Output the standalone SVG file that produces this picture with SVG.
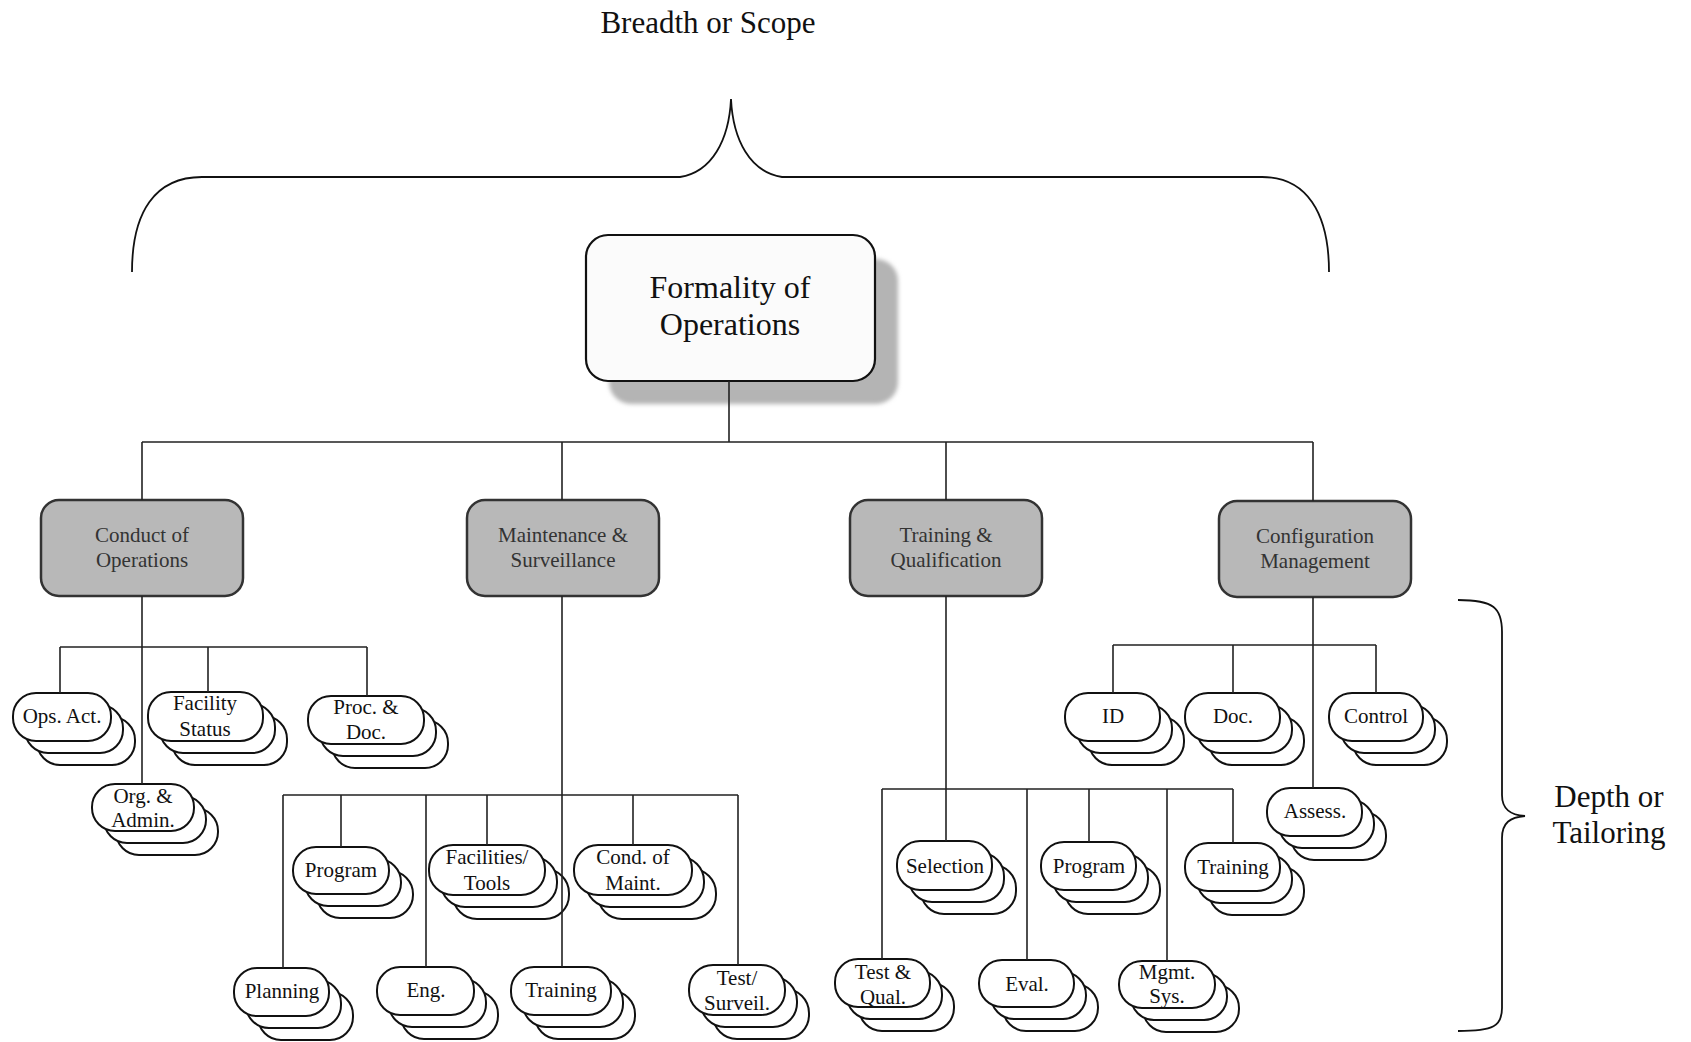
<svg xmlns="http://www.w3.org/2000/svg" width="1691" height="1042" viewBox="0 0 1691 1042">
<defs>
<style>
text{font-family:"Liberation Serif","Times New Roman",serif;text-anchor:middle;fill:#111}
.big{font-size:31px}
.top{font-size:32px}
.l2 rect{fill:#b8b8b8;stroke:#333;stroke-width:2.5}
.l2 text{font-size:21px;fill:#333}
.st rect{fill:#fff;stroke:#111;stroke-width:2}
.st text{font-size:21px}
.conn path{fill:none;stroke:#222;stroke-width:1.6}
.brace{fill:none;stroke:#111;stroke-width:1.8}
</style>
<filter id="blur" x="-10%" y="-10%" width="120%" height="120%"><feGaussianBlur stdDeviation="2"/></filter>
</defs>
<rect width="1691" height="1042" fill="#fff"/>

<text class="big" x="708" y="33">Breadth or Scope</text>
<path class="brace" d="M132,272 C132,212 155,177 202,177 L680,177 C712,172 729,140 731,99 C733,140 750,172 782,177 L1262,177 C1306,177 1329,212 1329,272"/>

<path class="brace" d="M1458,600 C1494,600 1502,608 1502,632 L1502,795 C1502,809 1510,815 1525,816 C1510,817 1502,823 1502,838 L1502,1008 C1502,1026 1494,1031 1458,1031"/>
<text class="big" x="1609" y="807">Depth or</text>
<text class="big" x="1609" y="843">Tailoring</text>

<g id="n_formality">
<rect x="609" y="259" width="289" height="145" rx="22" fill="#b4b4b4" filter="url(#blur)"/>
<rect x="586" y="235" width="289" height="146" rx="22" fill="#fbfbfb" stroke="#111" stroke-width="2.2"/>
<text class="top" x="730" y="298">Formality of</text>
<text class="top" x="730" y="335">Operations</text>
</g>

<g id="n_conduct" class="l2"><rect x="41" y="500" width="202" height="96" rx="18"/><text x="142" y="542">Conduct of</text><text x="142" y="567">Operations</text></g>
<g id="n_maint" class="l2"><rect x="467" y="500" width="192" height="96" rx="18"/><text x="563" y="542">Maintenance &amp;</text><text x="563" y="567">Surveillance</text></g>
<g id="n_trainq" class="l2"><rect x="850" y="500" width="192" height="96" rx="18"/><text x="946" y="542">Training &amp;</text><text x="946" y="567">Qualification</text></g>
<g id="n_config" class="l2"><rect x="1219" y="501" width="192" height="96" rx="18"/><text x="1315" y="543">Configuration</text><text x="1315" y="568">Management</text></g>

<g id="n_ops" class="st"><rect x="37" y="717" width="98" height="48" rx="23"/><rect x="25" y="705" width="98" height="48" rx="23"/><rect x="13" y="693" width="98" height="48" rx="23"/><text x="62" y="723">Ops. Act.</text></g>
<g id="n_facility" class="st"><rect x="172" y="716" width="115" height="49" rx="23"/><rect x="160" y="704" width="115" height="49" rx="23"/><rect x="148" y="692" width="115" height="49" rx="23"/><text x="205" y="710">Facility</text><text x="205" y="736">Status</text></g>
<g id="n_proc" class="st"><rect x="332" y="720" width="116" height="48" rx="23"/><rect x="320" y="708" width="116" height="48" rx="23"/><rect x="308" y="696" width="116" height="48" rx="23"/><text x="366" y="714">Proc. &amp;</text><text x="366" y="739">Doc.</text></g>
<g id="n_org" class="st"><rect x="116" y="808" width="102" height="47" rx="23"/><rect x="104" y="796" width="102" height="47" rx="23"/><rect x="92" y="784" width="102" height="47" rx="23"/><text x="143" y="803">Org. &amp;</text><text x="143" y="827">Admin.</text></g>

<g id="n_program1" class="st"><rect x="317" y="871" width="96" height="47" rx="23"/><rect x="305" y="859" width="96" height="47" rx="23"/><rect x="293" y="847" width="96" height="47" rx="23"/><text x="341" y="877">Program</text></g>
<g id="n_facilities" class="st"><rect x="453" y="869" width="116" height="50" rx="24"/><rect x="441" y="857" width="116" height="50" rx="24"/><rect x="429" y="845" width="116" height="50" rx="24"/><text x="487" y="864">Facilities/</text><text x="487" y="890">Tools</text></g>
<g id="n_condmaint" class="st"><rect x="598" y="869" width="118" height="50" rx="24"/><rect x="586" y="857" width="118" height="50" rx="24"/><rect x="574" y="845" width="118" height="50" rx="24"/><text x="633" y="864">Cond. of</text><text x="633" y="890">Maint.</text></g>
<g id="n_planning" class="st"><rect x="258" y="992" width="95" height="48" rx="23"/><rect x="246" y="980" width="95" height="48" rx="23"/><rect x="234" y="968" width="95" height="48" rx="23"/><text x="282" y="998">Planning</text></g>
<g id="n_eng" class="st"><rect x="401" y="991" width="97" height="48" rx="23"/><rect x="389" y="979" width="97" height="48" rx="23"/><rect x="377" y="967" width="97" height="48" rx="23"/><text x="426" y="997">Eng.</text></g>
<g id="n_training1" class="st"><rect x="535" y="991" width="100" height="48" rx="23"/><rect x="523" y="979" width="100" height="48" rx="23"/><rect x="511" y="967" width="100" height="48" rx="23"/><text x="561" y="997">Training</text></g>
<g id="n_test" class="st"><rect x="713" y="989" width="96" height="50" rx="24"/><rect x="701" y="977" width="96" height="50" rx="24"/><rect x="689" y="965" width="96" height="50" rx="24"/><text x="737" y="985">Test/</text><text x="737" y="1010">Surveil.</text></g>

<g id="n_selection" class="st"><rect x="921" y="865" width="95" height="49" rx="23"/><rect x="909" y="853" width="95" height="49" rx="23"/><rect x="897" y="841" width="95" height="49" rx="23"/><text x="945" y="873">Selection</text></g>
<g id="n_program2" class="st"><rect x="1065" y="866" width="95" height="48" rx="23"/><rect x="1053" y="854" width="95" height="48" rx="23"/><rect x="1041" y="842" width="95" height="48" rx="23"/><text x="1089" y="873">Program</text></g>
<g id="n_training2" class="st"><rect x="1209" y="867" width="95" height="48" rx="23"/><rect x="1197" y="855" width="95" height="48" rx="23"/><rect x="1185" y="843" width="95" height="48" rx="23"/><text x="1233" y="874">Training</text></g>
<g id="n_testqual" class="st"><rect x="859" y="983" width="95" height="48" rx="23"/><rect x="847" y="971" width="95" height="48" rx="23"/><rect x="835" y="959" width="95" height="48" rx="23"/><text x="883" y="979">Test &amp;</text><text x="883" y="1004">Qual.</text></g>
<g id="n_eval" class="st"><rect x="1003" y="984" width="95" height="47" rx="23"/><rect x="991" y="972" width="95" height="47" rx="23"/><rect x="979" y="960" width="95" height="47" rx="23"/><text x="1027" y="991">Eval.</text></g>
<g id="n_mgmt" class="st"><rect x="1143" y="985" width="96" height="47" rx="23"/><rect x="1131" y="973" width="96" height="47" rx="23"/><rect x="1119" y="961" width="96" height="47" rx="23"/><text x="1167" y="979">Mgmt.</text><text x="1167" y="1003">Sys.</text></g>

<g id="n_id" class="st"><rect x="1089" y="717" width="95" height="48" rx="23"/><rect x="1077" y="705" width="95" height="48" rx="23"/><rect x="1065" y="693" width="95" height="48" rx="23"/><text x="1113" y="723">ID</text></g>
<g id="n_doc" class="st"><rect x="1209" y="717" width="95" height="48" rx="23"/><rect x="1197" y="705" width="95" height="48" rx="23"/><rect x="1185" y="693" width="95" height="48" rx="23"/><text x="1233" y="723">Doc.</text></g>
<g id="n_control" class="st"><rect x="1353" y="717" width="94" height="48" rx="23"/><rect x="1341" y="705" width="94" height="48" rx="23"/><rect x="1329" y="693" width="94" height="48" rx="23"/><text x="1376" y="723">Control</text></g>
<g id="n_assess" class="st"><rect x="1291" y="812" width="95" height="48" rx="23"/><rect x="1279" y="800" width="95" height="48" rx="23"/><rect x="1267" y="788" width="95" height="48" rx="23"/><text x="1315" y="818">Assess.</text></g>

<g id="connectors" class="conn">
<path d="M729,381 V442 M142,442 H1313 M142,442 V500 M562,442 V500 M946,442 V500 M1313,442 V501"/>
<path d="M142,596 V784 M60,647 H367 M60,647 V693 M208,647 V692 M367,647 V696"/>
<path d="M562,596 V967 M283,795 H738 M283,795 V968 M341,795 V847 M426,795 V967 M487,795 V845 M633,795 V845 M738,795 V965"/>
<path d="M946,596 V841 M882,789 H1233 M882,789 V959 M1027,789 V960 M1089,789 V842 M1167,789 V961 M1233,789 V843"/>
<path d="M1313,597 V788 M1113,645 H1376 M1113,645 V693 M1233,645 V693 M1376,645 V693"/>
</g>
</svg>
